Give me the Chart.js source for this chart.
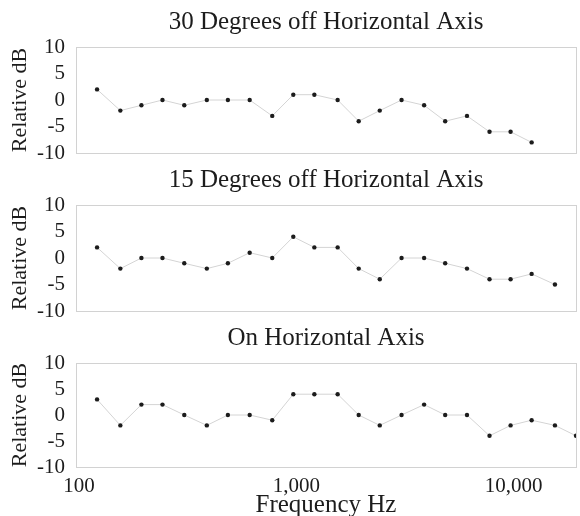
<!DOCTYPE html>
<html>
<head>
<meta charset="utf-8">
<script src="https://cdn.jsdelivr.net/npm/chart.js@4"></script>
<style>
  html, body { margin: 0; padding: 0; background: #fff; }
  #wrap { position: relative; width: 580px; height: 516px; overflow: hidden; }
  .panel { position: absolute; left: 0; width: 580px; }
</style>
</head>
<body>
<div id="wrap">
  <div class="panel" style="top:0;height:170px"><canvas id="c30"></canvas></div>
  <div class="panel" style="top:158px;height:170px"><canvas id="c15"></canvas></div>
  <div class="panel" style="top:316px;height:202px"><canvas id="c0"></canvas></div>
</div>
<script>
// 1/3-octave band centres, Hz
const frequencies = [125, 160, 200, 250, 315, 400, 500, 630, 800, 1000, 1250, 1600,
                     2000, 2500, 3150, 4000, 5000, 6300, 8000, 10000, 12500, 16000, 20000];

// relative response, dB
const deg30  = [2, -2, -1, 0, -1, 0, 0, 0, -3, 1, 1, 0, -4, -2, 0, -1, -4, -3, -6, -6, -8, null, null];
const deg15  = [2, -2, 0, 0, -1, -2, -1, 1, 0, 4, 2, 2, -2, -4, 0, 0, -1, -2, -4, -4, -3, -5, null];
const onAxis = [3, -2, 2, 2, 0, -2, 0, 0, -1, 4, 4, 4, 0, -2, 0, 2, 0, 0, -4, -2, -1, -2, -4];

const yTicks = [-10, -5, 0, 5, 10];
const xTickLabels = { 100: "100", 1000: "1,000", 10000: "10,000" };

const serif = "'Liberation Serif', 'DejaVu Serif', serif";
const ink = "#1c1c1c";
const frame = "#d2d2d2";

// no extra room for overhanging labels, the plot boxes are placed by hand
function noPadding(s) {
    s.paddingTop = 0;
    s.paddingBottom = 0;
    s.paddingLeft = 0;
    s.paddingRight = 0;
}

function drawPanel(id, title, values, showX) {

    const ctx = document.getElementById(id).getContext("2d");

    const points = frequencies.map((f, i) => ({ x: f, y: values[i] }));

    return new Chart(ctx, {
        type: "line",
        data: {
            datasets: [{
                data: points,
                xAxisID: "x",
                yAxisID: "y",
                borderColor: "#d4d4d4",
                borderWidth: 1,
                pointRadius: 2.2,
                pointBackgroundColor: ink,
                pointBorderWidth: 0,
                tension: 0
            }]
        },
        options: {
            responsive: true,
            maintainAspectRatio: false,
            animation: false,
            layout: {
                padding: { left: 0, right: 1, top: 0, bottom: showX ? 0 : 17 }
            },
            plugins: {
                legend: { display: false },
                tooltip: { enabled: false }
            },
            scales: {
                // top axis only carries the panel title, centred over the plot
                head: {
                    type: "linear",
                    position: "top",
                    min: 0,
                    max: 1,
                    afterFit: (s) => { s.height = 47; noPadding(s); },
                    grid: { display: false },
                    border: { display: false },
                    ticks: { display: false },
                    title: {
                        display: true,
                        text: title,
                        color: ink,
                        font: { family: serif, size: 25 },
                        padding: { top: 7, bottom: 0 }
                    }
                },
                x: {
                    type: "logarithmic",
                    min: 100,
                    max: 20000,
                    afterFit: (s) => { s.height = showX ? 51 : 0; noPadding(s); },
                    grid: {
                        drawTicks: false,
                        color: (c) => (c.tick && (c.tick.value === 100 || c.tick.value === 20000)) ? frame : "transparent"
                    },
                    border: { color: frame },
                    ticks: {
                        display: showX,
                        autoSkip: false,
                        maxRotation: 0,
                        padding: 9,
                        labelOffset: 3,
                        color: ink,
                        font: { family: serif, size: 21, lineHeight: 1 },
                        callback: (v) => xTickLabels[v] || ""
                    },
                    title: {
                        display: showX,
                        text: "Frequency Hz",
                        color: ink,
                        font: { family: serif, size: 25, lineHeight: 1 },
                        padding: { top: 0, bottom: 0 }
                    }
                },
                y: {
                    min: -10,
                    max: 10,
                    afterBuildTicks: (s) => { s.ticks = yTicks.map((v) => ({ value: v })); },
                    afterFit: (s) => { s.width = 76; noPadding(s); },
                    grid: {
                        drawTicks: false,
                        color: (c) => (c.tick && Math.abs(c.tick.value) === 10) ? frame : "transparent"
                    },
                    border: { color: frame },
                    ticks: {
                        autoSkip: false,
                        padding: 11,
                        color: ink,
                        font: { family: serif, size: 21 }
                    },
                    title: {
                        display: true,
                        text: "Relative dB",
                        color: ink,
                        font: { family: serif, size: 22 },
                        padding: { top: 7, bottom: 0 }
                    }
                }
            }
        }
    });
}

drawPanel("c30", "30 Degrees off Horizontal Axis", deg30, false);
drawPanel("c15", "15 Degrees off Horizontal Axis", deg15, false);
drawPanel("c0", "On Horizontal Axis", onAxis, true);
</script>
</body>
</html>
